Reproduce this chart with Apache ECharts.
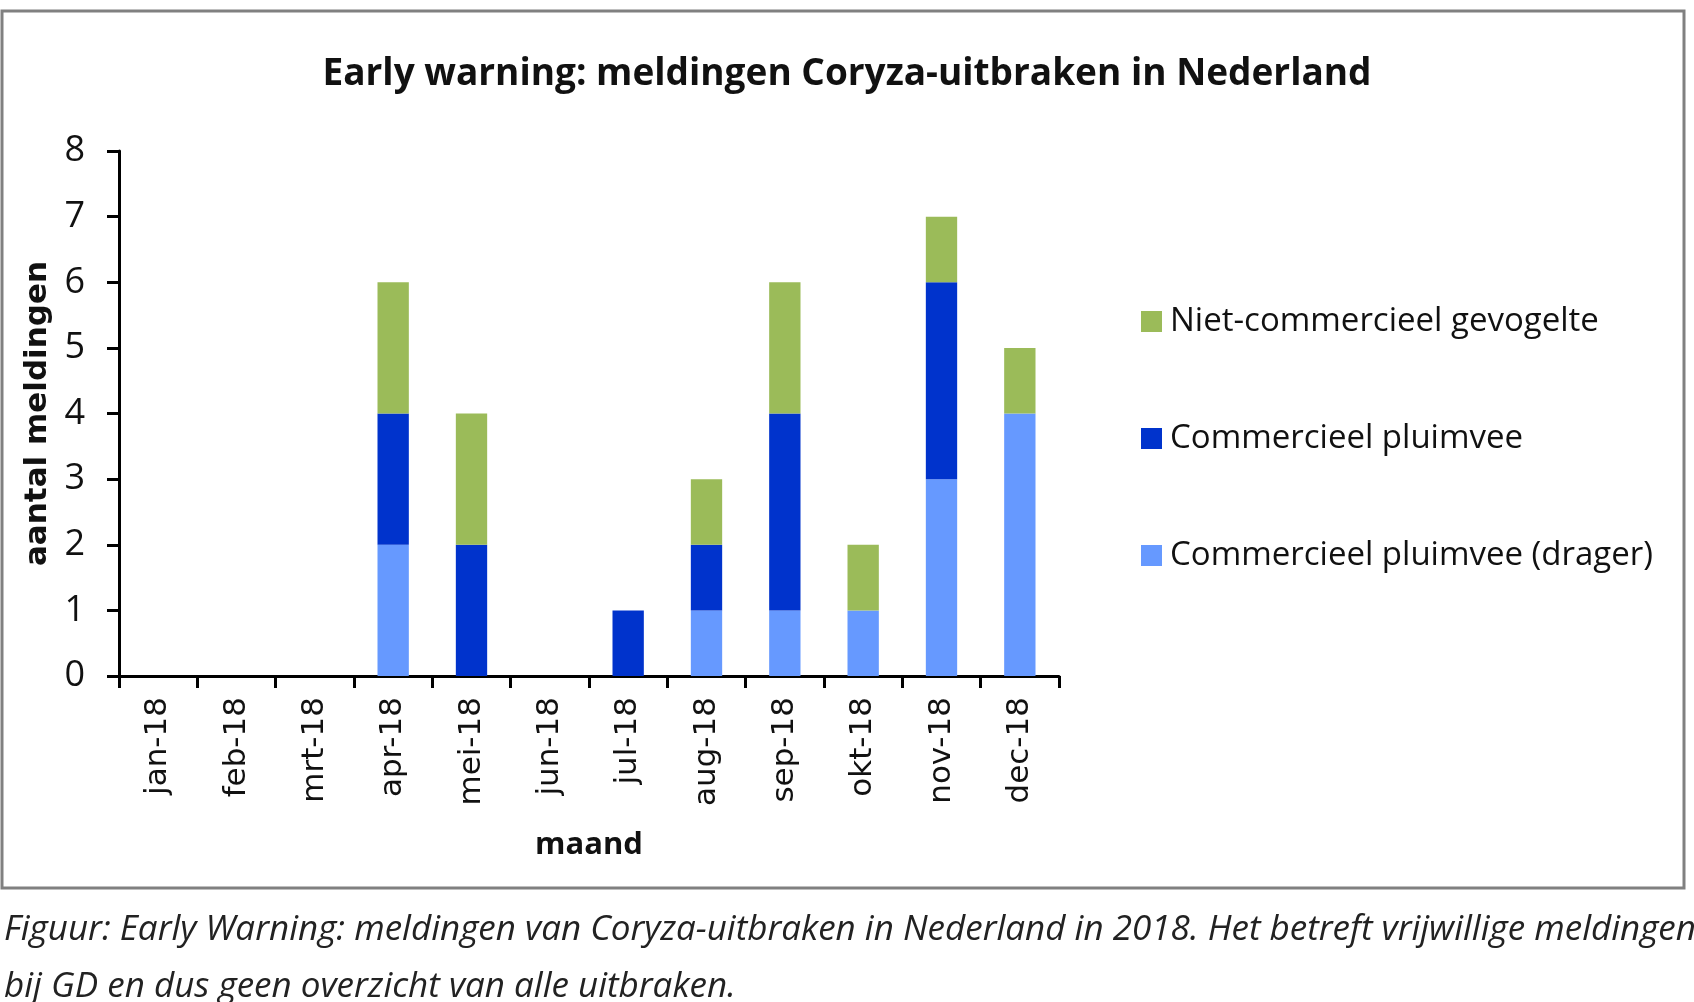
<!DOCTYPE html>
<html>
<head>
<meta charset="utf-8">
<script src="https://cdn.jsdelivr.net/npm/echarts@6/dist/echarts.min.js"></script>
<style>
html,body{margin:0;padding:0;background:#fff;}
#chart{width:1694px;height:1002px;}
</style>
</head>
<body>
<div id="chart"></div>
<script>
const categories = ['jan-18','feb-18','mrt-18','apr-18','mei-18','jun-18','jul-18','aug-18','sep-18','okt-18','nov-18','dec-18'];
const dragerValues = [0,0,0,2,0,0,0,1,1,1,3,4];
const commercieelValues = [0,0,0,2,2,0,1,1,3,0,3,0];
const nietCommercieelValues = [0,0,0,2,2,0,0,1,2,1,1,1];
const seriesNames = ['Commercieel pluimvee (drager)','Commercieel pluimvee','Niet-commercieel gevogelte'];
const titleText = 'Early warning: meldingen Coryza-uitbraken in Nederland';
const yAxisTitle = 'aantal meldingen';
const xAxisTitle = 'maand';
const captionLine1 = 'Figuur: Early Warning: meldingen van Coryza-uitbraken in Nederland in 2018. Het betreft vrijwillige meldingen';
const captionLine2 = 'bij GD en dus geen overzicht van alle uitbraken.';

const sans = "'Open Sans',sans-serif";
const verd = "'DejaVu Sans',sans-serif";

const chart = echarts.init(document.getElementById('chart'));
chart.setOption({
  backgroundColor: '#ffffff',
  animation: false,
  title: {
    text: titleText,
    left: 'center',
    top: 51,
    textStyle: {fontFamily: sans, fontWeight: 'bold', fontSize: 37, color: '#111'}
  },
  legend: {
    orient: 'vertical',
    left: 1136,
    top: 300,
    itemWidth: 21,
    itemHeight: 21,
    itemGap: 84,
    icon: 'rect',
    data: [seriesNames[2], seriesNames[1], seriesNames[0]],
    textStyle: {fontFamily: sans, fontSize: 33, color: '#111', padding: [0,0,0,3]}
  },
  grid: {left: 119, right: 635, top: 151, bottom: 326, containLabel: false},
  xAxis: {
    type: 'category',
    data: categories,
    name: xAxisTitle,
    nameLocation: 'middle',
    nameGap: 154,
    nameTextStyle: {fontFamily: sans, fontWeight: 'bold', fontSize: 31, color: '#111'},
    axisLine: {lineStyle: {color: '#000', width: 3}},
    axisTick: {show: true, length: 12, lineStyle: {color: '#000', width: 3}},
    axisLabel: {rotate: 90, margin: 21, fontFamily: verd, fontSize: 31, color: '#111'}
  },
  yAxis: {
    type: 'value',
    min: 0, max: 8, interval: 1,
    name: yAxisTitle,
    nameLocation: 'middle',
    nameRotate: 90,
    nameGap: 66,
    nameTextStyle: {fontFamily: verd, fontWeight: 'bold', fontSize: 31, color: '#111'},
    axisLine: {show: true, lineStyle: {color: '#000', width: 3}},
    axisTick: {show: true, length: 12, lineStyle: {color: '#000', width: 3}},
    splitLine: {show: false},
    axisLabel: {margin: 34, fontFamily: sans, fontSize: 36, color: '#111'}
  },
  series: [
    {name: seriesNames[0], type: 'bar', stack: 'total', data: dragerValues, barWidth: '40%', itemStyle: {color: '#6699FF'}},
    {name: seriesNames[1], type: 'bar', stack: 'total', data: commercieelValues, barWidth: '40%', itemStyle: {color: '#0033CC'}},
    {name: seriesNames[2], type: 'bar', stack: 'total', data: nietCommercieelValues, barWidth: '40%', itemStyle: {color: '#9BBB59'}}
  ],
  graphic: [
    {type: 'rect', z: -1, shape: {x: 2, y: 11, width: 1682, height: 877}, style: {fill: 'none', stroke: '#808080', lineWidth: 3}},
    {type: 'text', left: 4, top: 913, style: {text: captionLine1, fontFamily: sans, fontStyle: 'italic', fontSize: 35, fill: '#222'}},
    {type: 'text', left: 4, top: 970, style: {text: captionLine2, fontFamily: sans, fontStyle: 'italic', fontSize: 35, fill: '#222'}}
  ]
});
</script>
</body>
</html>
